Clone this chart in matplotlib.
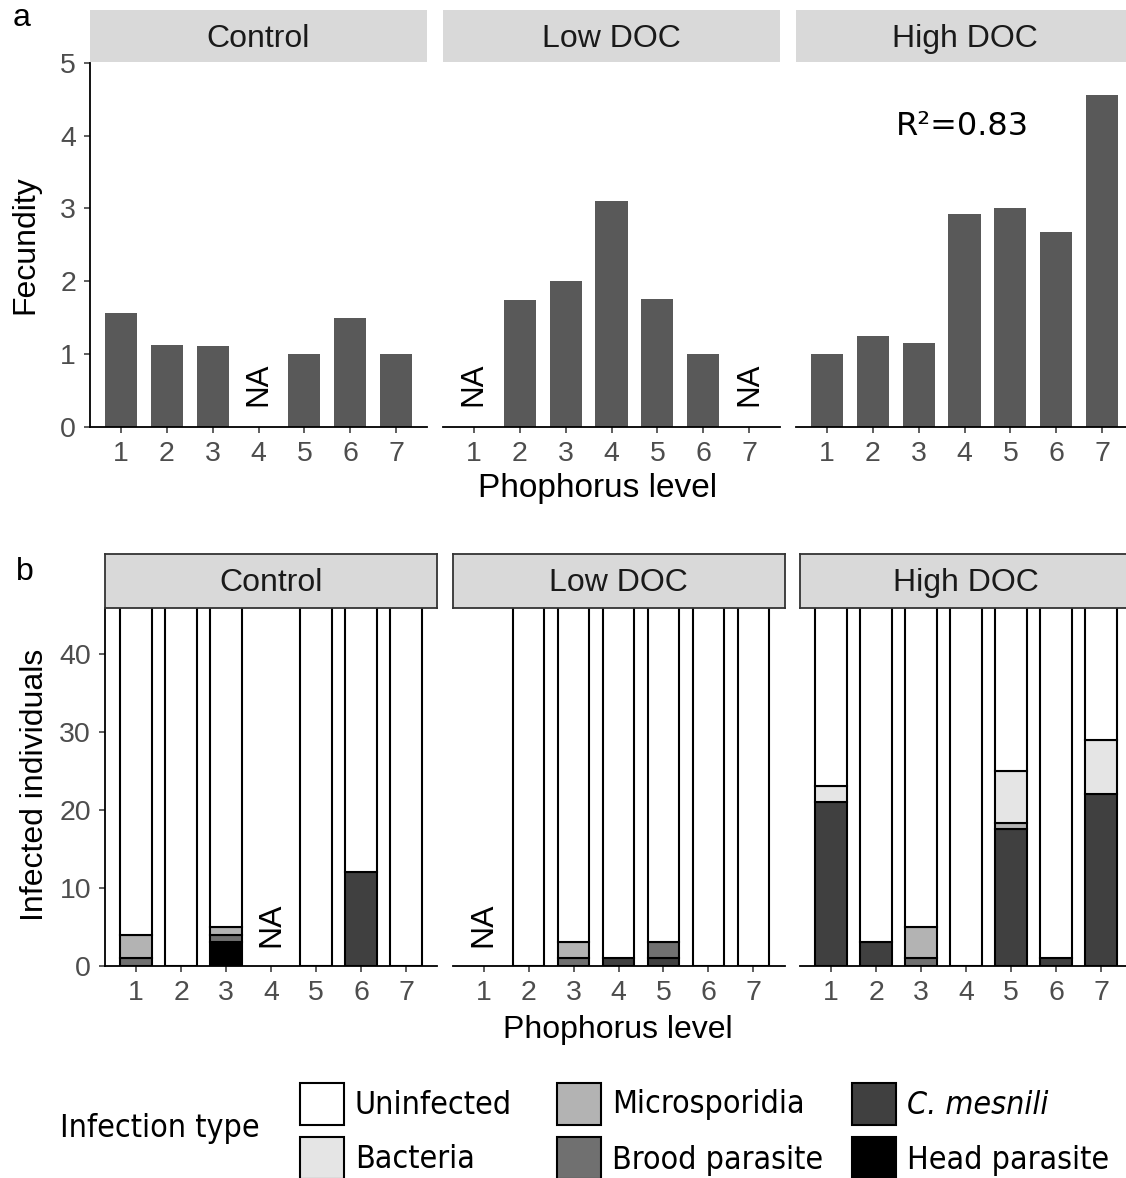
import matplotlib
matplotlib.use("Agg")
import matplotlib.pyplot as plt
from matplotlib.patches import Rectangle
import numpy as np

plt.rcParams['font.family'] = ['Liberation Sans', 'DejaVu Sans']

# ---------------- data ----------------
levels = [1, 2, 3, 4, 5, 6, 7]
treatments = ["Control", "Low DOC", "High DOC"]

fec_control = [1.56, 1.12, 1.11, None, 1.00, 1.50, 1.00]
fec_low = [None, 1.74, 2.00, 3.10, 1.75, 1.00, None]
fec_high = [1.00, 1.25, 1.15, 2.92, 3.00, 2.68, 4.55]
fecundity = [fec_control, fec_low, fec_high]
r2_label = "R\u00b2=0.83"

infection_types = ["Uninfected", "Bacteria", "Microsporidia", "Brood parasite",
                   "C. mesnili", "Head parasite"]
infection_colors = ["#ffffff", "#e5e5e5", "#b3b3b3", "#707070", "#404040", "#000000"]

# counts per level (None = NA)
ctrl_head = [0, 0, 3, None, 0, 0, 0]
ctrl_cmes = [0, 0, 0, None, 0, 12, 0]
ctrl_brood = [1, 0, 1, None, 0, 0, 0]
ctrl_micro = [3, 0, 1, None, 0, 0, 0]
ctrl_bact = [0, 0, 0, None, 0, 0, 0]
ctrl_unin = [46, 50, 45, None, 50, 38, 50]

low_head = [None, 0, 0, 0, 0, 0, 0]
low_cmes = [None, 0, 0, 1, 1, 0, 0]
low_brood = [None, 0, 1, 0, 2, 0, 0]
low_micro = [None, 0, 2, 0, 0, 0, 0]
low_bact = [None, 0, 0, 0, 0, 0, 0]
low_unin = [None, 50, 47, 49, 47, 50, 50]

high_head = [0, 0, 0, 0, 0, 0, 0]
high_cmes = [21, 3, 0, 0, 17.5, 1, 22]
high_brood = [0, 0, 1, 0, 0, 0, 0]
high_micro = [0, 0, 4, 0, 0.8, 0, 0]
high_bact = [2, 0, 0, 0, 6.7, 0, 7]
high_unin = [27, 47, 45, 50, 25, 49, 21]

infections = [
    {"Head parasite": ctrl_head, "C. mesnili": ctrl_cmes, "Brood parasite": ctrl_brood,
     "Microsporidia": ctrl_micro, "Bacteria": ctrl_bact, "Uninfected": ctrl_unin},
    {"Head parasite": low_head, "C. mesnili": low_cmes, "Brood parasite": low_brood,
     "Microsporidia": low_micro, "Bacteria": low_bact, "Uninfected": low_unin},
    {"Head parasite": high_head, "C. mesnili": high_cmes, "Brood parasite": high_brood,
     "Microsporidia": high_micro, "Bacteria": high_bact, "Uninfected": high_unin},
]
stack_order = ["Head parasite", "C. mesnili", "Brood parasite", "Microsporidia",
               "Bacteria", "Uninfected"]
na_a = [[4], [1, 7], []]
na_b = [[4], [1], []]

# ---------------- figure ----------------
W, H = 1126, 1178
fig = plt.figure(figsize=(W / 100, H / 100), dpi=100)

def box(left, top, width, height):
    return [left / W, 1 - (top + height) / H, width / W, height / H]

tick_kw = dict(length=4.5, width=1.1, color="#333333", labelcolor="#4d4d4d",
               labelsize=20.5)

# ---- panel a ----
a_lefts = [90, 443, 796]
a_width = 337
for i, left in enumerate(a_lefts):
    ax = fig.add_axes(box(left, 62.7, a_width, 427 - 62.7))
    vals = fecundity[i]
    xs = [l for l, v in zip(levels, vals) if v is not None]
    ys = [v for v in vals if v is not None]
    ax.bar(xs, ys, width=0.7, color="#595959", zorder=2)
    ax.set_xlim(0.33, 7.67)
    ax.set_ylim(0, 5)
    ax.set_xticks(levels)
    ax.set_xticklabels([str(l) for l in levels])
    ax.tick_params(axis="both", pad=5.5, **tick_kw)
    for s in ["top", "right"]:
        ax.spines[s].set_visible(False)
    ax.spines["bottom"].set_linewidth(1.3)
    ax.spines["bottom"].set_color("black")
    if i == 0:
        ax.set_yticks([0, 1, 2, 3, 4, 5])
        ax.spines["left"].set_linewidth(1.3)
        ax.spines["left"].set_color("black")
    else:
        ax.set_yticks([])
        ax.spines["left"].set_visible(False)
    for l in na_a[i]:
        ax.text(l, 0.59, "NA", rotation=90, ha="center", va="center",
                fontsize=22.5, color="black")
    if i == 2:
        ax.text(3.95, 4.12, r2_label, ha="center", va="center", fontsize=23,
                family="DejaVu Sans", color="black")
    sax = fig.add_axes(box(left, 10, a_width, 52))
    sax.set_facecolor("#d9d9d9")
    sax.set_xticks([]); sax.set_yticks([])
    for s in sax.spines.values():
        s.set_visible(False)
    sax.text(0.5, 0.45, treatments[i], transform=sax.transAxes, ha="center",
             va="center", fontsize=23, color="#1a1a1a")

fig.text(598 / W, 1 - 489 / H, "Phophorus level", ha="center", va="center",
         fontsize=24)
fig.text(25 / W, 1 - 245 / H, "Fecundity", ha="center", va="center",
         fontsize=23, rotation=90)
fig.text(22 / W, 1 - 18 / H, "a", ha="center", va="center", fontsize=23)

# ---- panel b ----
b_lefts = [105, 452.5, 800]
b_width = 332
color_map = dict(zip(infection_types, infection_colors))
for i, left in enumerate(b_lefts):
    ax = fig.add_axes(box(left, 608, b_width, 965.7 - 608))
    data = infections[i]
    bottoms = np.zeros(len(levels))
    for name in stack_order:
        vals = data[name]
        for j, v in enumerate(vals):
            if v is None or v == 0:
                continue
            ax.bar(levels[j], v, bottom=bottoms[j], width=0.7,
                   color=color_map[name], edgecolor="black", linewidth=1.5,
                   zorder=2)
            bottoms[j] += v
    ax.set_xlim(0.31, 7.69)
    ax.set_ylim(0, 45.9)
    ax.set_xticks(levels)
    ax.set_xticklabels([str(l) for l in levels])
    ax.tick_params(axis="both", pad=5.5, **tick_kw)
    for s in ["top", "right"]:
        ax.spines[s].set_visible(False)
    ax.spines["bottom"].set_linewidth(1.3)
    ax.spines["bottom"].set_color("black")
    ax.spines["bottom"].set_zorder(3)
    if i == 0:
        ax.set_yticks([0, 10, 20, 30, 40])
        ax.spines["left"].set_linewidth(1.3)
        ax.spines["left"].set_color("black")
    else:
        ax.set_yticks([])
        ax.spines["left"].set_visible(False)
    for l in na_b[i]:
        ax.text(l, 5.2, "NA", rotation=90, ha="center", va="center",
                fontsize=23, color="black")
    sax = fig.add_axes(box(left, 554, b_width, 54))
    sax.set_facecolor("#d9d9d9")
    sax.set_xticks([]); sax.set_yticks([])
    for s in sax.spines.values():
        s.set_color("#333333")
        s.set_linewidth(1.3)
    sax.text(0.5, 0.47, treatments[i], transform=sax.transAxes, ha="center",
             va="center", fontsize=23, color="#1a1a1a")

fig.text(618 / W, 1 - 1030 / H, "Phophorus level", ha="center", va="center",
         fontsize=23)
fig.text(35 / W, 1 - 785 / H, "Infected individuals", ha="center", va="center",
         fontsize=23, rotation=90)
fig.text(25 / W, 1 - 572 / H, "b", ha="center", va="center", fontsize=23)

# ---- legend ----
leg_font = dict(family="DejaVu Sans", fontstretch="condensed", fontsize=23)
fig.text(60 / W, 1 - 1128 / H, "Infection type", ha="left", va="center", **leg_font)
key_x = [300, 557, 852]
row_top = [1083, 1137]
row_text = [1105, 1160]
for k, (name, col) in enumerate(zip(infection_types, infection_colors)):
    c, r = k // 2, k % 2
    fig.add_artist(Rectangle((key_x[c] / W, 1 - (row_top[r] + 42) / H), 44 / W, 42 / H,
                             transform=fig.transFigure, facecolor=col,
                             edgecolor="black", linewidth=1.5))
    style = "italic" if name == "C. mesnili" else "normal"
    fig.text((key_x[c] + 55) / W, 1 - row_text[r] / H, name, ha="left",
             va="center", style=style, **leg_font)

fig.savefig("out.png", dpi=100)
